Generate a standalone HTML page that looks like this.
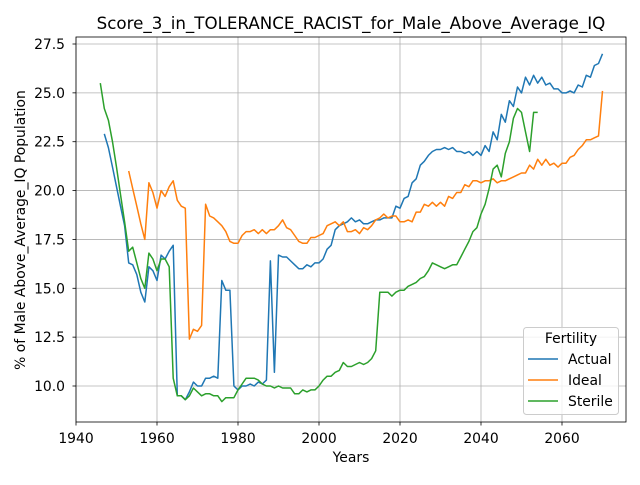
<!DOCTYPE html>
<html><head><meta charset="utf-8"><style>
body{margin:0;background:#fff;font-family:"Liberation Sans","DejaVu Sans",sans-serif;}
svg text{font-family:"DejaVu Sans","Liberation Sans",sans-serif;}
</style></head><body>
<svg id="chart" width="640" height="480" viewBox="0 0 640 480" xmlns="http://www.w3.org/2000/svg">
<rect width="640" height="480" fill="#fff"/>
<text x="351" y="29" text-anchor="middle" font-size="16.7">Score_3_in_TOLERANCE_RACIST_for_Male_Above_Average_IQ</text>
<g id="grid"></g><g id="series"></g><g id="axes"></g>
<text x="351" y="462" text-anchor="middle" font-size="13.9">Years</text>
<text transform="translate(25,230) rotate(-90)" text-anchor="middle" font-size="13.9">% of Male Above_Average_IQ Population</text>
<g>
<rect x="523.5" y="327.5" width="95" height="87" rx="3" fill="#fff" fill-opacity="0.8" stroke="#ccc"/>
<text x="571" y="343" text-anchor="middle" font-size="13.9">Fertility</text>
<line x1="528" y1="359" x2="558" y2="359" stroke="#1f77b4" stroke-width="1.5"/><text x="568" y="364" font-size="13.9">Actual</text>
<line x1="528" y1="380" x2="558" y2="380" stroke="#ff7f0e" stroke-width="1.5"/><text x="568" y="385" font-size="13.9">Ideal</text>
<line x1="528" y1="401" x2="558" y2="401" stroke="#2ca02c" stroke-width="1.5"/><text x="568" y="406" font-size="13.9">Sterile</text>
</g>
</svg>
<script>
const xTicks=[1940,1960,1980,2000,2020,2040,2060];
const yTicks=[10.0,12.5,15.0,17.5,20.0,22.5,25.0,27.5];
const actualStart=1947;
const actualVals=[22.9,22.2,21.2,20.2,19.2,18.2,16.3,16.2,15.7,14.8,14.3,16.1,15.9,15.4,16.7,16.5,16.9,17.2,9.5,9.5,9.3,9.7,10.2,10.0,10.0,10.4,10.4,10.5,10.4,15.4,14.9,14.9,10.0,9.8,10.0,10.0,10.1,10.0,10.2,10.1,10.3,16.4,10.7,16.7,16.6,16.6,16.4,16.2,16.0,16.0,16.2,16.1,16.3,16.3,16.5,17.0,17.2,18.0,18.2,18.3,18.4,18.6,18.4,18.5,18.3,18.3,18.4,18.5,18.5,18.6,18.6,18.6,19.2,19.1,19.6,19.7,20.4,20.6,21.3,21.5,21.8,22.0,22.1,22.1,22.2,22.1,22.2,22.0,22.0,21.9,22.0,21.8,22.0,21.8,22.3,22.0,23.0,22.6,23.9,23.5,24.6,24.3,25.3,25.0,25.8,25.4,25.9,25.5,25.8,25.4,25.5,25.2,25.2,25.0,25.0,25.1,25.0,25.4,25.3,25.9,25.8,26.4,26.5,27.0];
const idealStart=1953;
const idealVals=[21.0,20.1,19.2,18.3,17.5,20.4,19.9,19.1,20.0,19.7,20.2,20.5,19.5,19.2,19.1,12.4,12.9,12.8,13.1,19.3,18.7,18.6,18.4,18.2,17.9,17.4,17.3,17.3,17.7,17.9,17.9,18.0,17.8,18.0,17.8,18.0,18.0,18.2,18.5,18.1,18.0,17.7,17.4,17.3,17.3,17.6,17.6,17.7,17.8,18.2,18.3,18.4,18.2,18.4,17.9,17.9,18.0,17.8,18.1,18.0,18.2,18.5,18.6,18.8,18.6,18.7,18.7,18.4,18.4,18.5,18.4,18.9,18.9,19.3,19.2,19.4,19.2,19.4,19.2,19.7,19.6,19.9,19.9,20.3,20.2,20.5,20.5,20.4,20.5,20.5,20.6,20.4,20.5,20.5,20.6,20.7,20.8,20.9,20.9,21.3,21.1,21.6,21.3,21.6,21.3,21.4,21.2,21.4,21.4,21.7,21.8,22.1,22.3,22.6,22.6,22.7,22.8,25.1];
const sterileStart=1946;
const sterileVals=[25.5,24.2,23.6,22.5,21.2,19.8,18.4,16.9,17.1,16.3,15.5,15.0,16.8,16.5,15.9,16.5,16.5,16.1,10.4,9.5,9.5,9.3,9.5,9.9,9.7,9.5,9.6,9.6,9.5,9.5,9.2,9.4,9.4,9.4,9.8,10.1,10.4,10.4,10.4,10.3,10.1,10.0,10.0,9.9,10.0,9.9,9.9,9.9,9.6,9.6,9.8,9.7,9.8,9.8,10.0,10.3,10.5,10.5,10.7,10.8,11.2,11.0,11.0,11.1,11.2,11.1,11.2,11.4,11.8,14.8,14.8,14.8,14.6,14.8,14.9,14.9,15.1,15.2,15.3,15.5,15.6,15.9,16.3,16.2,16.1,16.0,16.1,16.2,16.2,16.6,17.0,17.4,17.9,18.1,18.8,19.3,20.1,21.1,21.3,20.7,21.9,22.5,23.7,24.2,24.0,23.0,22.0,24.0,24.0];

const L=76,R=626,T=37,B=422;
const xs=y=>76+(y-1940)*(562-76)/120;
const ys=v=>386-(v-10)*(386-44)/17.5;
const NS="http://www.w3.org/2000/svg";
function mk(tag,attrs,parent){const e=document.createElementNS(NS,tag);for(const k in attrs)e.setAttribute(k,attrs[k]);parent.appendChild(e);return e;}
const grid=document.getElementById('grid'),axes=document.getElementById('axes'),series=document.getElementById('series');
xTicks.forEach(t=>{const x=xs(t);
 const g=mk('line',{x1:x,x2:x,y1:T,y2:B,stroke:'#b0b0b0','stroke-width':0.8},grid);
 
 
 mk('line',{x1:x,x2:x,y1:B,y2:B+3.5,stroke:'#000','stroke-width':0.8},axes);
 const tx=mk('text',{x:x,y:B+21,'text-anchor':'middle','font-size':13.9},axes);tx.textContent=t;
 
 
});
yTicks.forEach(t=>{const y=ys(t);
 const g=mk('line',{x1:L,x2:R,y1:y,y2:y,stroke:'#b0b0b0','stroke-width':0.8},grid);
 
 
 mk('line',{x1:L-3.5,x2:L,y1:y,y2:y,stroke:'#000','stroke-width':0.8},axes);
 const tx=mk('text',{x:L-11,y:y+5,'text-anchor':'end','font-size':13.9},axes);tx.textContent=t.toFixed(1);
 
 
});
const frame=mk('rect',{x:L,y:T,width:R-L,height:B-T,fill:'none',stroke:'#000','stroke-width':0.8},axes);


function line(start,vals,color,name){
 const pts=vals.map((v,i)=>xs(start+i).toFixed(1)+','+ys(v).toFixed(1)).join(' ');
 const p=mk('polyline',{points:pts,fill:'none',stroke:color,'stroke-width':1.5,'stroke-linejoin':'round'},series);
 
 
}
line(actualStart,actualVals,'#1f77b4','actual-line');
line(idealStart,idealVals,'#ff7f0e','ideal-line');
line(sterileStart,sterileVals,'#2ca02c','sterile-line');
</script>
</body></html>
